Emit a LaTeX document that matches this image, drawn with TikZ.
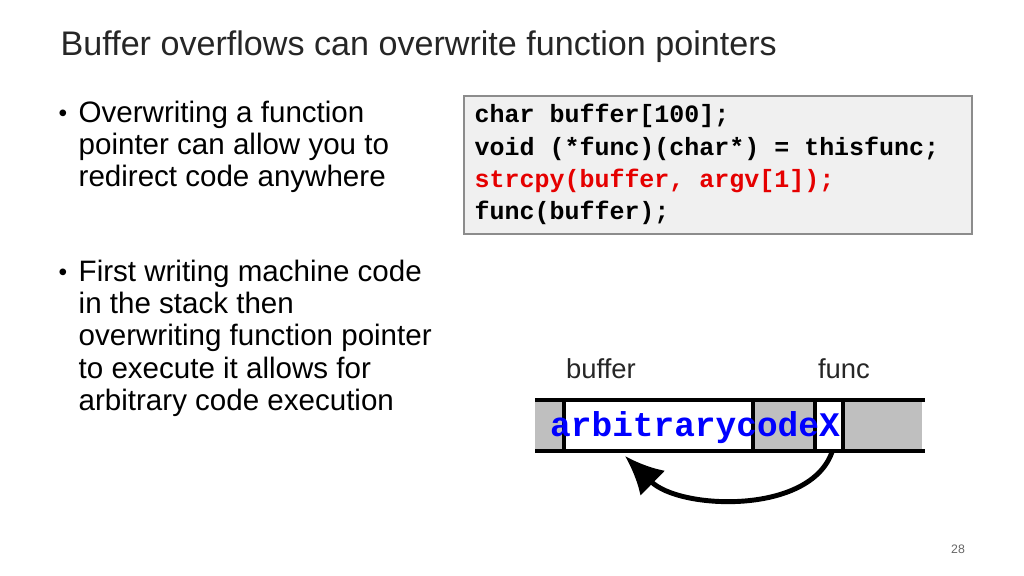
\documentclass[tikz,border=0pt]{standalone}
\usetikzlibrary{arrows.meta}
\usepackage{fontspec}
\setmainfont{Liberation Sans}
\setmonofont{Liberation Mono}
\begin{document}
\begin{tikzpicture}[x=0.01cm,y=-0.01cm,
  body/.style={anchor=north west,align=left,font=\fontsize{8.4pt}{9.2pt}\selectfont,inner sep=0},
  dot/.style={inner sep=0,font=\fontsize{7pt}{8pt}\selectfont},
  code/.style={anchor=west,inner sep=0,font=\ttfamily\bfseries\fontsize{7.1pt}{8pt}\selectfont},
  lab/.style={font=\fontsize{7.8pt}{8pt}\selectfont,text=black!85}]
\useasboundingbox (0,0) rectangle (1024,576);
\node[anchor=west,inner sep=0,font=\fontsize{9.7pt}{10pt}\selectfont,text=black!85] (title) at (60,47) {Buffer overflows can overwrite function pointers};
\node[body] (t1) at (78,100) {Overwriting a function\\pointer can allow you to\\redirect code anywhere};
\node[dot] (d1) at (63,116) {•};
\node[body] (t2) at (78,259) {First writing machine code\\in the stack then\\overwriting function pointer\\to execute it allows for\\arbitrary code execution};
\node[dot] (d2) at (63,275) {•};
\draw[black!45,fill=black!6] (464,96) rectangle (972,234);
\node[code] (c1) at (474,116) {char buffer[100];};
\node[code] (c2) at (474,149) {void (*func)(char*) = thisfunc;};
\node[code,text=red!90!black] (c3) at (474,181) {strcpy(buffer, argv[1]);};
\node[code] (c4) at (474,213) {func(buffer);};
% memory strip
\fill[black!25] (535,401) rectangle (922,451);
\fill[white] (564,401) rectangle (753,451);
\fill[white] (815,401) rectangle (843,451);
\draw[line width=1.1pt] (535,400) -- (925,400) (535,451) -- (925,451);
\foreach \x in {564,753,815,843} \draw[line width=1pt] (\x,400) -- (\x,451);
\node[lab] (lbuf) at (601,369) {buffer};
\node[lab] (lfunc) at (844,369) {func};
\node[inner sep=0,font=\ttfamily\bfseries\fontsize{9.8pt}{10pt}\selectfont,text=blue] (code) at (695,428) {arbitrarycodeX};
\coordinate (s) at (832,452);
\coordinate (e) at (625,456);
\draw[line width=1.4pt,-{Latex[length=11pt,width=10pt]}] (s) .. controls (810,515) and (680,510) .. (e);
\node[font=\fontsize{3.5pt}{4pt}\selectfont,text=black!60] (pg) at (958,549) {28};
\end{tikzpicture}
\end{document}
